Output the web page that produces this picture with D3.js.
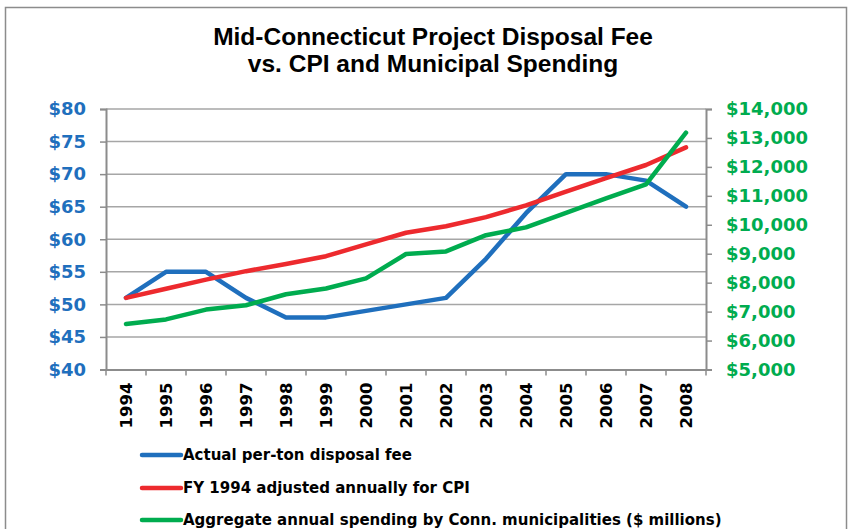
<!DOCTYPE html>
<html>
<head>
<meta charset="utf-8">
<script src="https://cdn.jsdelivr.net/npm/d3@7"></script>
<style>
  body { margin: 0; background: #fff; }
  svg { display: block; }
</style>
</head>
<body>
<svg id="chart"></svg>
<script>
const width = 851;
const height = 529;

const years = ["1994", "1995", "1996", "1997", "1998", "1999", "2000", "2001",
    "2002", "2003", "2004", "2005", "2006", "2007", "2008"];

// left axis ($ per ton)
const actualFee = [51, 55, 55, 51, 48, 48, 49, 50, 51, 57, 64, 70, 70, 69, 65];
const cpiFee = [51, 52.4, 53.8, 55.1, 56.2, 57.4, 59.2, 61, 62, 63.4, 65.2, 67.3, 69.4, 71.4, 74.1];
// right axis ($ millions)
const spending = [6570, 6730, 7070, 7220, 7600, 7800, 8150, 8990, 9080, 9640, 9910, 10410, 10910, 11400, 13180];

const leftTicks = [40, 45, 50, 55, 60, 65, 70, 75, 80];
const rightTicks = [5000, 6000, 7000, 8000, 9000, 10000, 11000, 12000, 13000, 14000];

const legendLabels = [
    "Actual per-ton disposal fee",
    "FY 1994 adjusted annually for CPI",
    "Aggregate annual spending by Conn. municipalities ($ millions)"
];

const blue = "#1f6fbd";
const red = "#ed2a2e";
const green = "#00ac4f";

const margin = {top: 109, right: 145, bottom: 160, left: 106};

const svg = d3.select("#chart")
    .attr("width", width)
    .attr("height", height);

// outer frame
svg.append("rect")
    .attr("x", 5.5).attr("y", 7.5)
    .attr("width", 841).attr("height", 540)
    .attr("fill", "none")
    .attr("stroke", "#8c8c8c")
    .attr("stroke-width", 1.5);

svg.append("text")
    .attr("x", 433).attr("y", 45)
    .attr("text-anchor", "middle")
    .style("font-family", "Liberation Sans, Arial, sans-serif")
    .style("font-weight", "bold")
    .style("font-size", "24.5px")
    .text("Mid-Connecticut Project Disposal Fee");
svg.append("text")
    .attr("x", 433).attr("y", 72)
    .attr("text-anchor", "middle")
    .style("font-family", "Liberation Sans, Arial, sans-serif")
    .style("font-weight", "bold")
    .style("font-size", "24.5px")
    .text("vs. CPI and Municipal Spending");

const x = d3.scaleBand()
    .domain(years)
    .range([margin.left, width - margin.right]);

const yLeft = d3.scaleLinear()
    .domain([40, 80])
    .range([369.5, margin.top]);

const yRight = d3.scaleLinear()
    .domain([5000, 14000])
    .range([369.5, margin.top]);

// gridlines
svg.append("g")
    .selectAll("line")
    .data(leftTicks.slice(1))
    .join("line")
    .attr("x1", margin.left).attr("x2", width - margin.right)
    .attr("y1", d => yLeft(d)).attr("y2", d => yLeft(d))
    .attr("stroke", "#a6a6a6")
    .attr("stroke-width", 1.5);

// left axis
const gLeft = svg.append("g")
    .attr("transform", `translate(${margin.left},0)`)
    .call(d3.axisLeft(yLeft).tickValues(leftTicks).tickSize(6).tickPadding(14).tickFormat(d => "$" + d));
gLeft.select(".domain").attr("stroke", "#8c8c8c").attr("stroke-width", 2);
gLeft.selectAll(".tick line").attr("stroke", "#8c8c8c").attr("stroke-width", 1.5);
gLeft.selectAll(".tick text")
    .attr("fill", blue)
    .style("font-family", "DejaVu Sans, Verdana, sans-serif")
    .style("font-weight", "bold")
    .style("font-size", "18px");

// right axis
const gRight = svg.append("g")
    .attr("transform", `translate(${width - margin.right},0)`)
    .call(d3.axisRight(yRight).tickValues(rightTicks).tickSize(6).tickPadding(14).tickFormat(d => "$" + d3.format(",")(d)));
gRight.select(".domain").attr("stroke", "#8c8c8c").attr("stroke-width", 2);
gRight.selectAll(".tick line").attr("stroke", "#8c8c8c").attr("stroke-width", 1.5);
gRight.selectAll(".tick text")
    .attr("fill", green)
    .style("font-family", "DejaVu Sans, Verdana, sans-serif")
    .style("font-weight", "bold")
    .style("font-size", "18px");

// x axis
const gX = svg.append("g")
    .attr("transform", "translate(0,369.5)")
    .call(d3.axisBottom(x).tickSize(0).tickPadding(0));
gX.select(".domain").attr("stroke", "#8c8c8c").attr("stroke-width", 2);
gX.selectAll(".tick text")
    .attr("transform", "rotate(-90)")
    .attr("x", -13).attr("y", 0).attr("dy", "0.35em")
    .attr("text-anchor", "end")
    .attr("fill", "#000")
    .style("font-family", "DejaVu Sans, Verdana, sans-serif")
    .style("font-weight", "bold")
    .style("font-size", "16.5px");
// boundary ticks between categories
gX.append("g")
    .selectAll("line")
    .data(years.concat(["end"]))
    .join("line")
    .attr("x1", (d, i) => margin.left + i * x.step())
    .attr("x2", (d, i) => margin.left + i * x.step())
    .attr("y1", 0).attr("y2", 6)
    .attr("stroke", "#8c8c8c")
    .attr("stroke-width", 1.5);

const cx = d => x(d) + x.bandwidth() / 2;

const series = [
    {values: actualFee, scale: yLeft, color: blue},
    {values: cpiFee, scale: yLeft, color: red},
    {values: spending, scale: yRight, color: green}
];

series.forEach(s => {
    const line = d3.line()
        .x((d, i) => cx(years[i]))
        .y(d => s.scale(d));
    svg.append("path")
        .datum(s.values)
        .attr("d", line)
        .attr("fill", "none")
        .attr("stroke", s.color)
        .attr("stroke-width", 4.5)
        .attr("stroke-linejoin", "round")
        .attr("stroke-linecap", "round");
});

// legend
const legend = svg.append("g");
const legendY = [455, 488, 520];
legendLabels.forEach((label, i) => {
    legend.append("line")
        .attr("x1", 142).attr("x2", 181)
        .attr("y1", legendY[i]).attr("y2", legendY[i])
        .attr("stroke", series[i].color)
        .attr("stroke-width", 4.5)
        .attr("stroke-linecap", "round");
    legend.append("text")
        .attr("x", 183).attr("y", legendY[i])
        .attr("dy", "0.36em")
        .style("font-family", "DejaVu Sans, Verdana, sans-serif")
        .style("font-weight", "bold")
        .style("font-size", "15px")
        .text(label);
});
</script>
</body>
</html>
